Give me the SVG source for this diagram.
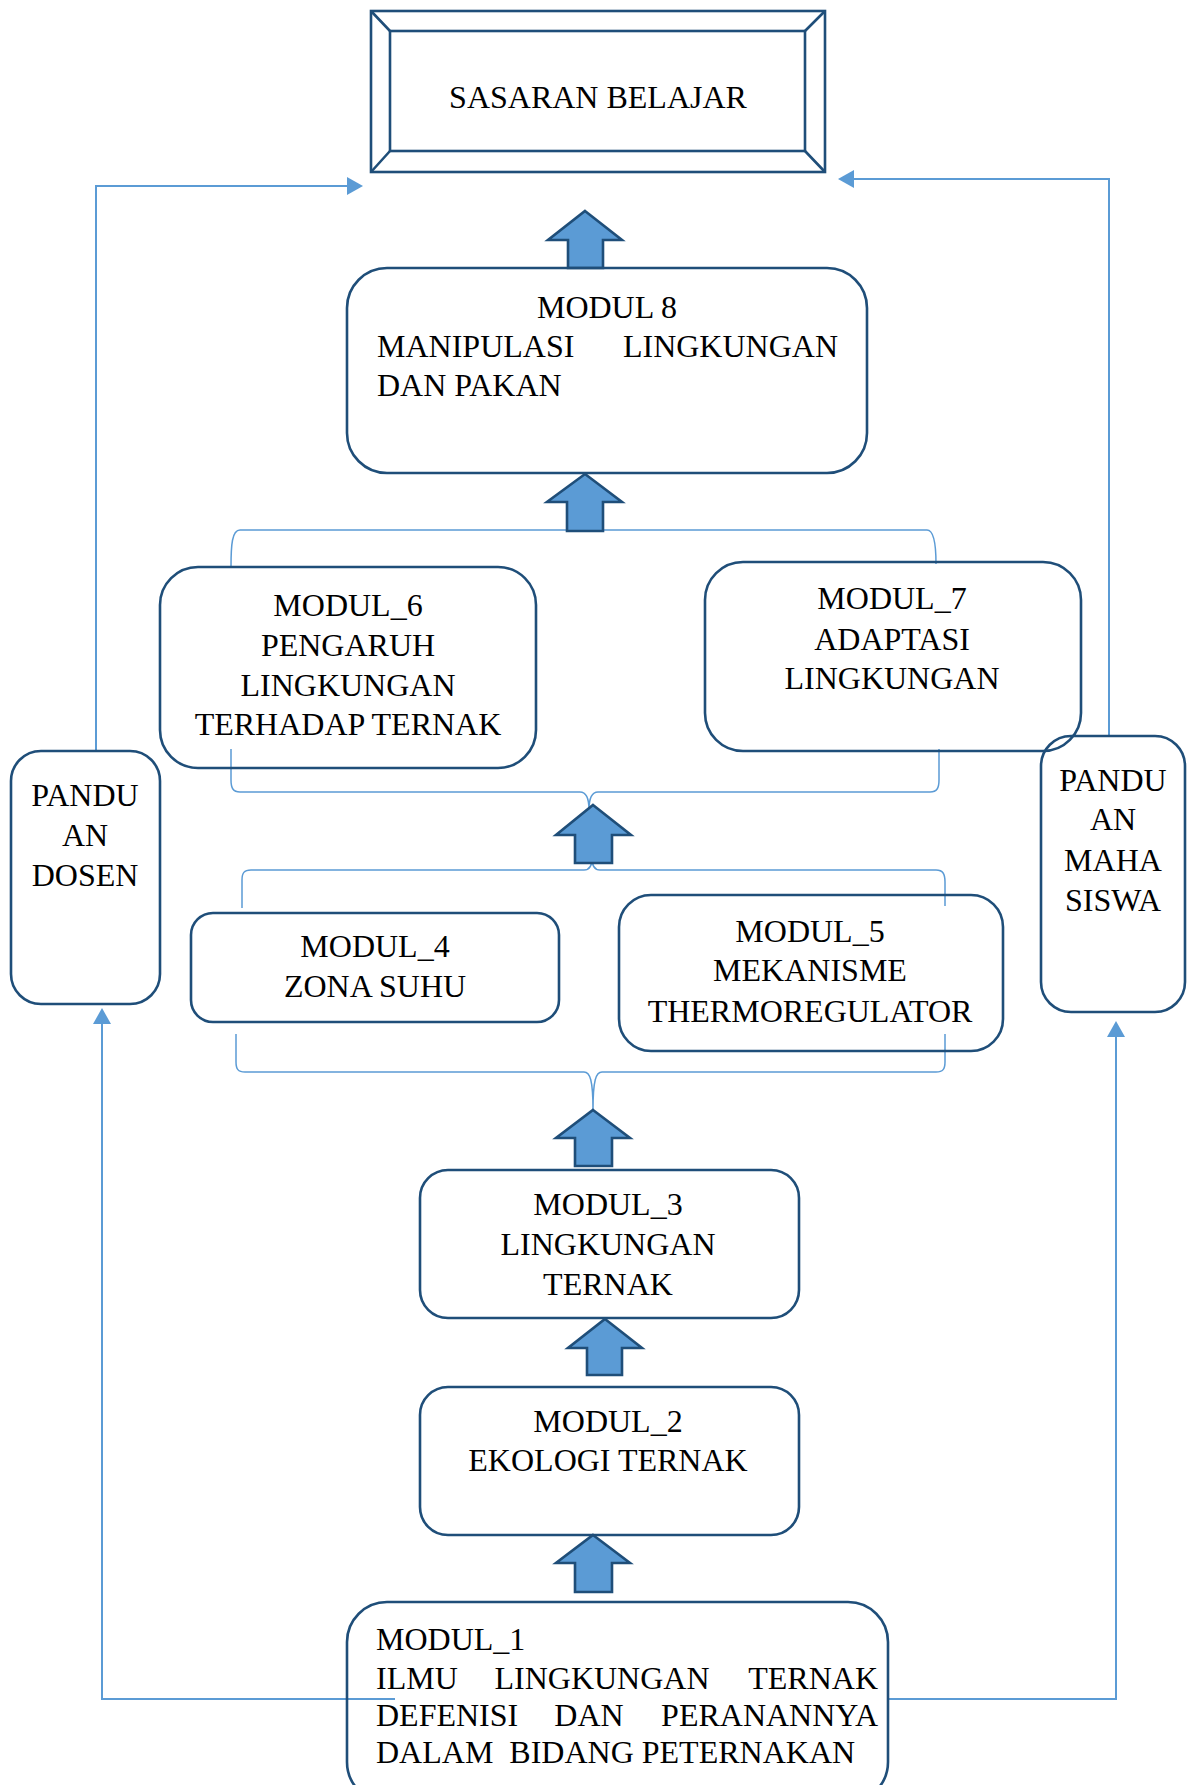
<svg xmlns="http://www.w3.org/2000/svg" width="1187" height="1785" viewBox="0 0 1187 1785">
<defs>
<style>
.box{fill:none;stroke:#1F4E79;stroke-width:2.6}
.arr{fill:#5B9BD5;stroke:#1F4E79;stroke-width:2.6;stroke-linejoin:miter}
.ln{fill:none;stroke:#5B9BD5;stroke-width:2}
.br{fill:none;stroke:#5B9BD5;stroke-width:1.5}
.hd{fill:#5B9BD5;stroke:none}
text{font-family:"Liberation Serif","Times New Roman",serif;font-size:32px;fill:#000}
.c{text-anchor:middle}
.e{text-anchor:end}
</style>
</defs>
<rect width="1187" height="1785" fill="#fff"/>
<g id="connectors">
<path class="ln" d="M96,751 V186 H349"/>
<polygon class="hd" points="363,186 347,177 347,195"/>
<path class="ln" d="M1109,735 V179 H852"/>
<polygon class="hd" points="838,179 854,170 854,188"/>
<path class="ln" d="M395,1699 H102 V1022"/>
<polygon class="hd" points="102,1008 93,1024 111,1024"/>
<path class="ln" d="M888,1699 H1116 V1035"/>
<polygon class="hd" points="1116,1021 1107,1037 1125,1037"/>
<path class="br" d="M231,567 C231,545 232,530 240,530 L578,530 C583,530 585,527 585,522 C585,527 587,530 592,530 L927,530 C934,530 936,545 936,564"/>
<path class="br" d="M231,749 V780 C231,788 233,792 240,792 L580,792 C586,792 589,798 589,810 C589,798 592,792 598,792 L930,792 C937,792 939,788 939,780 V749"/>
<path class="br" d="M242,908 V880 C242,873 244,870 251,870 L584,870 C589,870 592,866 592,858 C592,866 595,870 600,870 L936,870 C943,870 945,874 945,882 V906"/>
<path class="br" d="M236,1034 V1062 C236,1069 238,1072 245,1072 L584,1072 C590,1072 593,1080 593,1110 C593,1080 596,1072 602,1072 L936,1072 C943,1072 945,1069 945,1062 V1034"/>
<polygon class="arr" points="585,211 622,240 603,240 603,268 568,268 568,240 548,240"/>
<polygon class="arr" points="585,474 622,502 603,502 603,531 567,531 567,502 547,502"/>
<polygon class="arr" points="593,805 631,835 612,835 612,863 575,863 575,835 556,835"/>
<polygon class="arr" points="593,1110 630,1138 612,1138 612,1166 575,1166 575,1138 556,1138"/>
<polygon class="arr" points="605,1319 642,1348 622,1348 622,1375 587,1375 587,1348 568,1348"/>
<polygon class="arr" points="593,1535 630,1563 612,1563 612,1592 575,1592 575,1563 556,1563"/>
</g>
<g id="sasaran">
<rect class="box" x="371" y="11" width="454" height="161"/>
<rect class="box" x="390" y="31" width="415" height="120"/>
<path class="box" d="M371,11 L390,31 M825,11 L805,31 M371,172 L390,151 M825,172 L805,151"/>
<text class="c" x="598" y="108">SASARAN BELAJAR</text>
</g>
<g id="modul8">
<rect class="box" x="347" y="268" width="520" height="205" rx="40"/>
<text class="c" x="607" y="318">MODUL 8</text>
<text x="377" y="357">MANIPULASI</text>
<text class="e" x="838" y="357">LINGKUNGAN</text>
<text x="377" y="396">DAN PAKAN</text>
</g>
<g id="modul6">
<rect class="box" x="160" y="567" width="376" height="201" rx="38"/>
<text class="c" x="348" y="616">MODUL_6</text>
<text class="c" x="348" y="656">PENGARUH</text>
<text class="c" x="348" y="696">LINGKUNGAN</text>
<text class="c" x="348" y="735">TERHADAP TERNAK</text>
</g>
<g id="modul7">
<rect class="box" x="705" y="562" width="376" height="189" rx="38"/>
<text class="c" x="892" y="609">MODUL_7</text>
<text class="c" x="892" y="650">ADAPTASI</text>
<text class="c" x="892" y="689">LINGKUNGAN</text>
</g>
<g id="panduan-dosen">
<rect class="box" x="11" y="751" width="149" height="253" rx="30"/>
<text class="c" x="85" y="806">PANDU</text>
<text class="c" x="85" y="846">AN</text>
<text class="c" x="85" y="886">DOSEN</text>
</g>
<g id="panduan-mahasiswa">
<rect class="box" x="1041" y="736" width="144" height="276" rx="30"/>
<text class="c" x="1113" y="791">PANDU</text>
<text class="c" x="1113" y="830">AN</text>
<text class="c" x="1113" y="871">MAHA</text>
<text class="c" x="1113" y="911">SISWA</text>
</g>
<g id="modul4">
<rect class="box" x="191" y="913" width="368" height="109" rx="22"/>
<text class="c" x="375" y="957">MODUL_4</text>
<text class="c" x="375" y="997">ZONA SUHU</text>
</g>
<g id="modul5">
<rect class="box" x="619" y="895" width="384" height="156" rx="32"/>
<text class="c" x="810" y="942">MODUL_5</text>
<text class="c" x="810" y="981">MEKANISME</text>
<text class="c" x="810" y="1022">THERMOREGULATOR</text>
</g>
<g id="modul3">
<rect class="box" x="420" y="1170" width="379" height="148" rx="28"/>
<text class="c" x="608" y="1215">MODUL_3</text>
<text class="c" x="608" y="1255">LINGKUNGAN</text>
<text class="c" x="608" y="1295">TERNAK</text>
</g>
<g id="modul2">
<rect class="box" x="420" y="1387" width="379" height="148" rx="28"/>
<text class="c" x="608" y="1432">MODUL_2</text>
<text class="c" x="608" y="1471">EKOLOGI TERNAK</text>
</g>
<g id="modul1">
<rect class="box" x="347" y="1602" width="541" height="200" rx="40"/>
<text x="376" y="1650">MODUL_1</text>
<text x="376" y="1689">ILMU</text>
<text class="c" x="602" y="1689">LINGKUNGAN</text>
<text class="e" x="878" y="1689">TERNAK</text>
<text x="376" y="1726">DEFENISI</text>
<text class="c" x="589" y="1726">DAN</text>
<text class="e" x="878" y="1726">PERANANNYA</text>
<text x="376" y="1763" xml:space="preserve">DALAM  BIDANG PETERNAKAN</text>
</g>
</svg>
